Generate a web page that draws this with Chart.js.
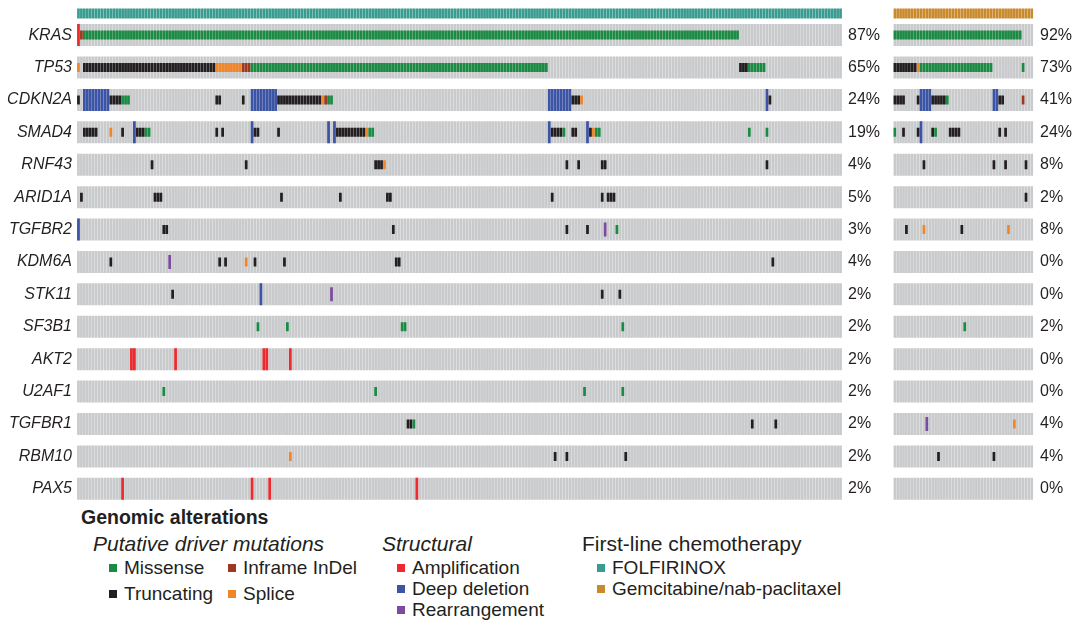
<!DOCTYPE html>
<html>
<head>
<meta charset="utf-8">
<script src="https://cdn.jsdelivr.net/npm/chart.js@4.4.1/dist/chart.umd.min.js"></script>
<style>
  body { margin: 0; background: #fff; width: 1080px; height: 625px; position: relative; overflow: hidden;
         font-family: "Liberation Sans", Arial, sans-serif; color: #231f20; }
  #wrapA { position: absolute; left: 0; top: 0; width: 885px; height: 505px; }
  #wrapB { position: absolute; left: 885px; top: 0; width: 195px; height: 505px; }
  .lg { position: absolute; white-space: nowrap; line-height: 1; font-size: 19px; }
  .hd { font-size: 21px; }
  .sq { position: absolute; width: 8px; height: 8px; }
</style>
</head>
<body>
<div id="wrapA"><canvas id="oncoLeft" width="885" height="505"></canvas></div>
<div id="wrapB"><canvas id="oncoRight" width="195" height="505"></canvas></div>
<div id="legend"></div>
<script>
// genes, sample counts, percentages
const genes = ['KRAS', 'TP53', 'CDKN2A', 'SMAD4', 'RNF43', 'ARID1A', 'TGFBR2', 'KDM6A',
               'STK11', 'SF3B1', 'AKT2', 'U2AF1', 'TGFBR1', 'RBM10', 'PAX5'];
const nLeft = 260;   // FOLFIRINOX
const nRight = 48;   // Gemcitabine/nab-paclitaxel
const pctLeft = [87, 65, 24, 19, 4, 5, 3, 4, 2, 2, 2, 2, 2, 2, 2];
const pctRight = [92, 73, 41, 24, 8, 2, 8, 0, 0, 2, 0, 0, 4, 4, 0];

// alterations: [gene, first sample, last sample]
const missenseL = [['KRAS', 2, 224], ['TP53', 59, 159], ['TP53', 228, 233], ['CDKN2A', 15, 17], ['CDKN2A', 85, 86],
  ['SMAD4', 23, 24], ['SMAD4', 99, 100], ['SMAD4', 165, 165], ['SMAD4', 176, 177], ['SMAD4', 228, 228], ['SMAD4', 234, 234],
  ['TGFBR2', 183, 183], ['SF3B1', 61, 61], ['SF3B1', 71, 71], ['SF3B1', 110, 111], ['SF3B1', 185, 185],
  ['U2AF1', 29, 29], ['U2AF1', 101, 101], ['U2AF1', 172, 172], ['U2AF1', 185, 185], ['TGFBR1', 114, 114]];
const truncatingL = [['TP53', 2, 46], ['TP53', 225, 227],
  ['CDKN2A', 0, 0], ['CDKN2A', 11, 14], ['CDKN2A', 47, 48], ['CDKN2A', 56, 56], ['CDKN2A', 68, 82], ['CDKN2A', 168, 170], ['CDKN2A', 235, 235],
  ['SMAD4', 2, 6], ['SMAD4', 15, 15], ['SMAD4', 20, 22], ['SMAD4', 47, 47], ['SMAD4', 49, 49], ['SMAD4', 60, 61], ['SMAD4', 68, 68],
  ['SMAD4', 88, 97], ['SMAD4', 161, 164], ['SMAD4', 168, 169], ['SMAD4', 174, 174],
  ['RNF43', 25, 25], ['RNF43', 57, 57], ['RNF43', 101, 103], ['RNF43', 166, 166], ['RNF43', 170, 170], ['RNF43', 178, 179], ['RNF43', 234, 234],
  ['ARID1A', 1, 1], ['ARID1A', 26, 28], ['ARID1A', 69, 69], ['ARID1A', 89, 89], ['ARID1A', 105, 106], ['ARID1A', 161, 161],
  ['ARID1A', 178, 178], ['ARID1A', 180, 182],
  ['TGFBR2', 29, 30], ['TGFBR2', 107, 107], ['TGFBR2', 166, 166], ['TGFBR2', 173, 173],
  ['KDM6A', 11, 11], ['KDM6A', 48, 48], ['KDM6A', 50, 50], ['KDM6A', 60, 60], ['KDM6A', 70, 70], ['KDM6A', 108, 109], ['KDM6A', 236, 236],
  ['STK11', 32, 32], ['STK11', 178, 178], ['STK11', 184, 184],
  ['TGFBR1', 112, 113], ['TGFBR1', 229, 229], ['TGFBR1', 237, 237],
  ['RBM10', 162, 162], ['RBM10', 166, 166], ['RBM10', 186, 186]];
const spliceL = [['TP53', 0, 0], ['TP53', 47, 55], ['CDKN2A', 83, 83], ['CDKN2A', 171, 171],
  ['SMAD4', 11, 11], ['SMAD4', 98, 98], ['SMAD4', 175, 175], ['RNF43', 104, 104], ['KDM6A', 57, 57], ['RBM10', 72, 72]];
const inframeL = [['KRAS', 1, 1], ['TP53', 56, 58], ['CDKN2A', 84, 84]];
const amplificationL = [['KRAS', 0, 0], ['AKT2', 18, 19], ['AKT2', 33, 33], ['AKT2', 63, 64], ['AKT2', 72, 72],
  ['PAX5', 15, 15], ['PAX5', 59, 59], ['PAX5', 65, 65], ['PAX5', 115, 115]];
const deletionL = [['CDKN2A', 2, 10], ['CDKN2A', 59, 67], ['CDKN2A', 160, 167], ['CDKN2A', 234, 234],
  ['SMAD4', 19, 19], ['SMAD4', 59, 59], ['SMAD4', 85, 85], ['SMAD4', 87, 87], ['SMAD4', 160, 160], ['SMAD4', 173, 173],
  ['TGFBR2', 0, 0], ['STK11', 62, 62]];
const rearrangementL = [['TGFBR2', 179, 179], ['KDM6A', 31, 31], ['STK11', 86, 86]];

const missenseR = [['KRAS', 0, 43], ['TP53', 9, 33], ['TP53', 44, 44], ['CDKN2A', 18, 18],
  ['SMAD4', 0, 0], ['SMAD4', 14, 14], ['SF3B1', 24, 24]];
const truncatingR = [['TP53', 0, 7], ['CDKN2A', 0, 3], ['CDKN2A', 8, 8], ['CDKN2A', 13, 17], ['CDKN2A', 36, 37],
  ['SMAD4', 3, 3], ['SMAD4', 8, 8], ['SMAD4', 13, 13], ['SMAD4', 19, 22], ['SMAD4', 36, 36], ['SMAD4', 38, 38],
  ['RNF43', 10, 10], ['RNF43', 34, 34], ['RNF43', 38, 38], ['RNF43', 45, 45], ['ARID1A', 45, 45],
  ['TGFBR2', 4, 4], ['TGFBR2', 23, 23], ['RBM10', 15, 15], ['RBM10', 34, 34]];
const spliceR = [['TP53', 8, 8], ['TGFBR2', 10, 10], ['TGFBR2', 39, 39], ['TGFBR1', 41, 41]];
const inframeR = [['CDKN2A', 44, 44]];
const amplificationR = [];
const deletionR = [['CDKN2A', 9, 12], ['CDKN2A', 34, 35], ['SMAD4', 9, 9]];
const rearrangementR = [['TGFBR1', 11, 11]];

const colors = {
  bg: '#c9cacc', missense: '#1b8a43', truncating: '#231f20', splice: '#f0862a', inframe: '#9b3a20',
  amplification: '#ee2a2e', deletion: '#3b54a6', rearrangement: '#7b4c9e', folfirinox: '#3a9b8f', gem: '#c98a2e'
};

const gap = 0.035;
const annY = 0.335;  // treatment bar sits above the first gene row

function cells(list) {
  const out = [];
  list.forEach(([g, a, b]) => {
    for (let i = a; i <= b; i++) out.push({ x: [i + gap, i + 1 - gap], y: genes.indexOf(g) + 1 });
  });
  return out;
}
function background(n) {
  const out = [];
  genes.forEach((g, r) => {
    for (let i = 0; i < n; i++) out.push({ x: [i + gap, i + 1 - gap], y: r + 1 });
  });
  return out;
}
function annotation(n) {
  const out = [];
  for (let i = 0; i < n; i++) out.push({ x: [i + gap, i + 1 - gap], y: annY });
  return out;
}

function layer(data, color, thick, order) {
  return { data: data, backgroundColor: color, barThickness: thick, order: order,
           borderWidth: 0, inflateAmount: 0, grouped: false };
}

function buildChart(id, n, parts, annColor, pct, showGenes, padLeft, rightW, rightPad) {
  const ticksAt = (s) => { s.ticks = genes.map((g, i) => ({ value: i + 1 })); };
  // no extra room for half labels at the ends of the axis
  const fitTo = (w) => (s) => { s.width = w; s.paddingTop = 0; s.paddingBottom = 0; };
  return new Chart(document.getElementById(id), {
    type: 'bar',
    data: {
      datasets: [
        layer(cells(parts.missense), colors.missense, 9, 1),
        layer(cells(parts.truncating), colors.truncating, 9, 1),
        layer(cells(parts.splice), colors.splice, 9, 1),
        layer(cells(parts.inframe), colors.inframe, 9, 1),
        layer(cells(parts.rearrangement), colors.rearrangement, 14, 2),
        layer(cells(parts.amplification), colors.amplification, 22, 3),
        layer(cells(parts.deletion), colors.deletion, 22, 3),
        layer(annotation(n), annColor, 10, 5),
        layer(background(n), colors.bg, 22, 6)
      ]
    },
    options: {
      indexAxis: 'y',
      responsive: false,
      animation: false,
      layout: { padding: { top: 2.7, left: padLeft, right: 0, bottom: 0 } },
      plugins: { legend: { display: false }, tooltip: { enabled: false } },
      scales: {
        x: { type: 'linear', min: 0, max: n, display: false },
        y: {
          type: 'linear', reverse: true, min: 0, max: 15.5, offset: false, display: showGenes,
          grid: { display: false, drawTicks: false }, border: { display: false },
          afterBuildTicks: ticksAt,
          afterFit: fitTo(showGenes ? 77 : 0),
          ticks: { padding: 5, color: '#231f20', autoSkip: false,
                   font: { family: '"Liberation Sans", Arial, sans-serif', size: 16, style: 'italic' },
                   callback: (v, i) => genes[i] }
        },
        y2: {
          type: 'linear', position: 'right', reverse: true, min: 0, max: 15.5, offset: false,
          grid: { display: false, drawTicks: false }, border: { display: false },
          afterBuildTicks: ticksAt,
          afterFit: fitTo(rightW),
          ticks: { padding: rightPad, color: '#231f20', autoSkip: false,
                   font: { family: '"Liberation Sans", Arial, sans-serif', size: 16 },
                   callback: (v, i) => pct[i] + '%' }
        }
      }
    }
  });
}

buildChart('oncoLeft', nLeft, {
  missense: missenseL, truncating: truncatingL, splice: spliceL, inframe: inframeL,
  amplification: amplificationL, deletion: deletionL, rearrangement: rearrangementL
}, colors.folfirinox, pctLeft, true, 0, 43, 6);

buildChart('oncoRight', nRight, {
  missense: missenseR, truncating: truncatingR, splice: spliceR, inframe: inframeR,
  amplification: amplificationR, deletion: deletionR, rearrangement: rearrangementR
}, colors.gem, pctRight, false, 8.3, 46.7, 6.7);

// legend
const legendItems = [
  { text: 'Genomic alterations', x: 81, y: 518, cls: 'hd', style: 'font-weight:bold;font-size:19.5px' },
  { text: 'Putative driver mutations', x: 93, y: 543, cls: 'hd', style: 'font-style:italic' },
  { text: 'Structural', x: 382, y: 543, cls: 'hd', style: 'font-style:italic' },
  { text: 'First-line chemotherapy', x: 582, y: 543, cls: 'hd', style: '' },
  { text: 'Missense', x: 124, y: 567, color: colors.missense },
  { text: 'Inframe InDel', x: 243, y: 567, color: colors.inframe },
  { text: 'Truncating', x: 124, y: 593, color: colors.truncating },
  { text: 'Splice', x: 243, y: 593, color: colors.splice },
  { text: 'Amplification', x: 412, y: 567, color: colors.amplification },
  { text: 'Deep deletion', x: 412, y: 588, color: colors.deletion },
  { text: 'Rearrangement', x: 412, y: 609, color: colors.rearrangement },
  { text: 'FOLFIRINOX', x: 612, y: 567, color: colors.folfirinox },
  { text: 'Gemcitabine/nab-paclitaxel', x: 612, y: 588, color: colors.gem }
];
const legendBox = document.getElementById('legend');
legendItems.forEach(it => {
  const d = document.createElement('div');
  d.className = 'lg ' + (it.cls || '');
  const fs = it.cls ? 21 : 19;
  d.style.cssText = 'left:' + it.x + 'px;top:' + (it.y - fs * 0.5) + 'px;' + (it.style || '');
  d.textContent = it.text;
  legendBox.appendChild(d);
  if (it.color) {
    const s = document.createElement('div');
    s.className = 'sq';
    s.style.cssText = 'left:' + (it.x - 15) + 'px;top:' + (it.y - 3) + 'px;background:' + it.color;
    legendBox.appendChild(s);
  }
});
</script>
</body>
</html>
